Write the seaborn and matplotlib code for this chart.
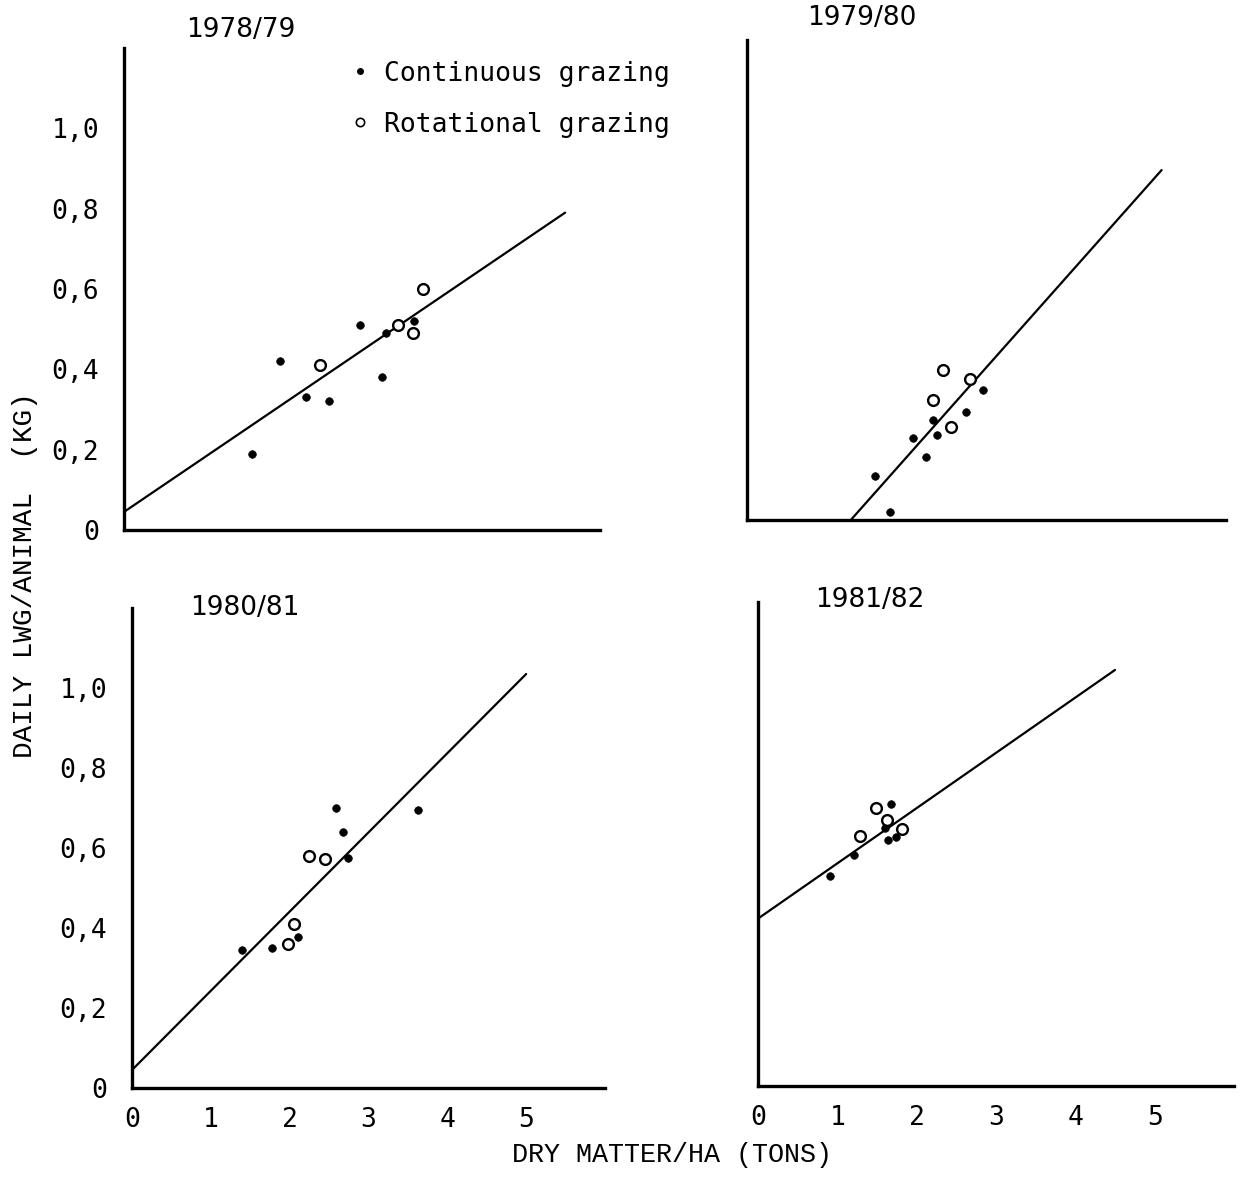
import numpy as np
import pandas as pd
import matplotlib
matplotlib.use("Agg")
import matplotlib.pyplot as plt
import seaborn as sns
from matplotlib.lines import Line2D

sns.set_theme(style="white")
plt.rcParams['font.family'] = ['DejaVu Sans Mono', 'DejaVu Sans']
plt.rcParams['text.color'] = 'black'
plt.rcParams['axes.labelcolor'] = 'black'
plt.rcParams['xtick.color'] = 'black'
plt.rcParams['ytick.color'] = 'black'

seasons = ["1978/79", "1979/80", "1980/81", "1981/82"]
groups = ["Continuous grazing", "Rotational grazing"]

# 1978/79
cont_x_7879 = [1.61, 1.97, 2.29, 2.58, 2.98, 3.25, 3.30, 3.66]
cont_y_7879 = [0.19, 0.42, 0.33, 0.32, 0.51, 0.38, 0.49, 0.52]
rot_x_7879 = [2.47, 3.45, 3.64, 3.77]
rot_y_7879 = [0.41, 0.51, 0.49, 0.60]
# 1979/80
cont_x_7980 = [1.53, 1.72, 2.01, 2.18, 2.27, 2.32, 2.69, 2.90]
cont_y_7980 = [0.11, 0.02, 0.205, 0.157, 0.25, 0.213, 0.27, 0.326]
rot_x_7980 = [2.27, 2.39, 2.50, 2.74]
rot_y_7980 = [0.30, 0.376, 0.233, 0.352]
# 1980/81
cont_x_8081 = [1.40, 1.77, 2.11, 2.59, 2.68, 2.74, 3.63]
cont_y_8081 = [0.344, 0.35, 0.377, 0.70, 0.64, 0.575, 0.694]
rot_x_8081 = [1.98, 2.06, 2.25, 2.45]
rot_y_8081 = [0.36, 0.41, 0.58, 0.572]
# 1981/82
cont_x_8182 = [0.91, 1.21, 1.60, 1.64, 1.68, 1.74]
cont_y_8182 = [0.52, 0.573, 0.64, 0.61, 0.70, 0.617]
rot_x_8182 = [1.28, 1.49, 1.63, 1.82]
rot_y_8182 = [0.62, 0.69, 0.66, 0.636]

# regression lines
line_intercept = [0.045, -0.27, 0.045, 0.415]
line_slope = [0.134, 0.221, 0.198, 0.137]
line_x_start = [0.0, 1.22, 0.0, 0.0]
line_x_end = [5.56, 5.18, 5.0, 4.5]

x_ticks = [0, 1, 2, 3, 4, 5]
y_ticks = [0, 0.2, 0.4, 0.6, 0.8, 1.0]
y_tick_labels = ["0", "0,2", "0,4", "0,6", "0,8", "1,0"]

panel_data = [
    (cont_x_7879, cont_y_7879, rot_x_7879, rot_y_7879),
    (cont_x_7980, cont_y_7980, rot_x_7980, rot_y_7980),
    (cont_x_8081, cont_y_8081, rot_x_8081, rot_y_8081),
    (cont_x_8182, cont_y_8182, rot_x_8182, rot_y_8182),
]

W, H = 1242, 1181
fig = plt.figure(figsize=(W / 100, H / 100), dpi=100)
fig.patch.set_facecolor("white")

# axes rects in pixels: (left, top, right, bottom)
rects_px = [
    (124, 48, 600, 530),
    (747, 40, 1226, 520),
    (132, 608, 605, 1088),
    (758, 602, 1234, 1086),
]
xlims = [(0, 6), (-0.1, 6), (0, 6), (0, 6)]
title_pos = [(241, 30), (862, 18), (245, 608), (870, 600)]

for i, (season, (cx, cy, rx, ry)) in enumerate(zip(seasons, panel_data)):
    l, t, r, b = rects_px[i]
    ax = fig.add_axes([l / W, 1 - b / H, (r - l) / W, (b - t) / H])
    ax.set_facecolor("white")
    df = pd.DataFrame({
        "x": list(cx) + list(rx),
        "y": list(cy) + list(ry),
        "group": [groups[0]] * len(cx) + [groups[1]] * len(rx),
    })
    xs = np.array([line_x_start[i], line_x_end[i]])
    line_df = pd.DataFrame({"x": xs, "y": line_intercept[i] + line_slope[i] * xs})
    sns.lineplot(data=line_df, x="x", y="y", ax=ax, color="black", lw=1.6,
                 clip_on=False)
    sns.scatterplot(data=df[df.group == groups[0]], x="x", y="y", ax=ax,
                    color="black", s=30, edgecolor="black", linewidth=0.5,
                    clip_on=False, legend=False, zorder=3)
    sns.scatterplot(data=df[df.group == groups[1]], x="x", y="y", ax=ax,
                    facecolor="white", edgecolor="black", s=60, linewidth=1.7,
                    clip_on=False, legend=False, zorder=4)
    ax.set_xlim(*xlims[i])
    ax.set_ylim(0, 1.2)
    ax.set_xlabel("")
    ax.set_ylabel("")
    for s in ["top", "right"]:
        ax.spines[s].set_visible(False)
    for s in ["left", "bottom"]:
        ax.spines[s].set_linewidth(2.4)
        ax.spines[s].set_color("black")
    ax.tick_params(direction="out", length=6, width=2, color="black",
                   labelsize=19, labelcolor="black")
    ax.set_xticks(x_ticks)
    if i >= 2:
        ax.set_xticklabels([str(v) for v in x_ticks])
        ax.tick_params(axis="x", pad=8)
    else:
        ax.set_xticklabels([])
    if i % 2 == 0:
        ax.set_yticks(y_ticks)
        ax.set_yticklabels(y_tick_labels)
        ax.tick_params(axis="y", pad=12)
    else:
        ax.set_yticks([0.2, 0.4, 0.6, 0.8, 1.0, 1.2])
        ax.set_yticklabels([])
    tx, ty = title_pos[i]
    fig.text(tx / W, 1 - ty / H, season, ha="center", va="center",
             fontsize=19, family=["DejaVu Sans"], color="black")

fig.text(25 / W, 1 - 575 / H, "DAILY LWG/ANIMAL  (KG)", rotation=90,
         ha="center", va="center", fontsize=20,
         family=["Liberation Mono", "DejaVu Sans Mono"], color="black")
fig.text(672 / W, 1 - 1155 / H, "DRY MATTER/HA (TONS)", ha="center",
         va="center", fontsize=19.3,
         family=["Liberation Mono", "DejaVu Sans Mono"], color="black")

handles = [
    Line2D([], [], marker="o", ls="", color="black", markersize=4),
    Line2D([], [], marker="o", ls="", markerfacecolor="white",
           markeredgecolor="black", markersize=6, markeredgewidth=1.2),
]
leg = fig.legend(handles, groups, loc="upper left",
                 bbox_to_anchor=(342 / W, 1 - 50 / H), frameon=False,
                 fontsize=19, handlelength=0.6, handletextpad=0.6,
                 labelspacing=0.95, borderaxespad=0)
for txt in leg.get_texts():
    txt.set_color("black")

fig.savefig("out.png", dpi=100, facecolor="white")
